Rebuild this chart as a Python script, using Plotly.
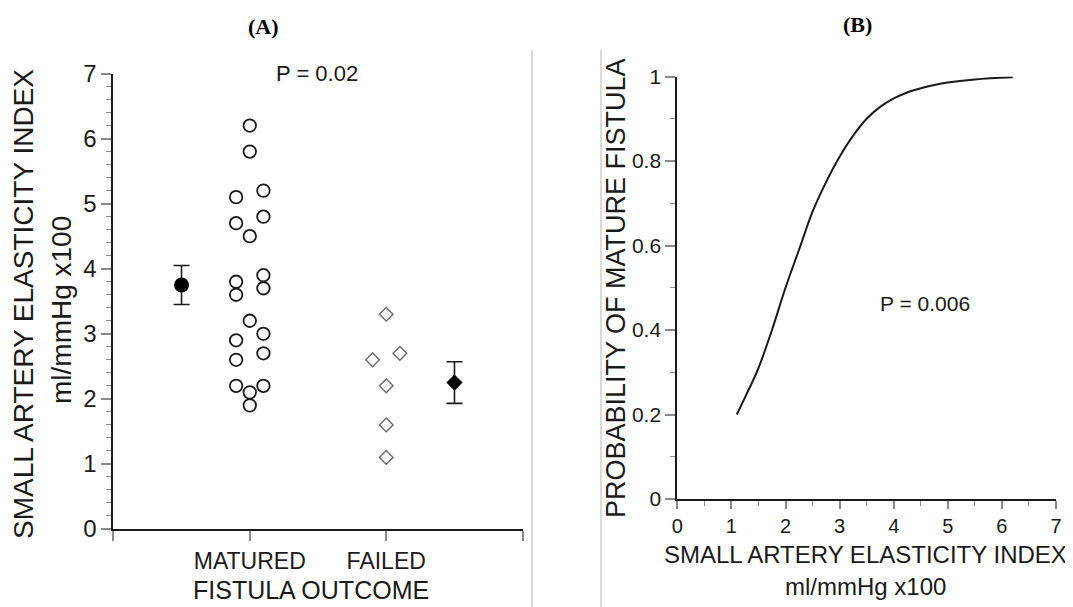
import plotly.graph_objects as go

# ---------------- data ----------------
categories = ["MATURED", "FAILED"]

# Panel A: small artery elasticity index (ml/mmHg x100)
matured_center = [6.2, 5.8, 4.5, 3.2, 2.1, 1.9]
matured_left = [5.1, 4.7, 3.8, 3.6, 2.9, 2.6, 2.2]
matured_right = [5.2, 4.8, 3.9, 3.7, 3.0, 2.7, 2.2]
failed_center = [3.3, 2.2, 1.6, 1.1]
failed_left = [2.6]
failed_right = [2.7]
group_means = [3.75, 2.25]
group_errors = [0.30, 0.32]

# Panel B: probability of mature fistula vs elasticity index
curve_x = [1.1, 1.25, 1.5, 1.75, 2.0, 2.25, 2.5, 2.75, 3.0, 3.25, 3.5, 3.75,
           4.0, 4.25, 4.5, 4.75, 5.0, 5.5, 6.2]
curve_p = [0.20, 0.24, 0.31, 0.40, 0.50, 0.59, 0.68, 0.75, 0.81, 0.86, 0.90,
           0.928, 0.948, 0.962, 0.972, 0.980, 0.986, 0.993, 0.998]

b_yticks = [0, 0.2, 0.4, 0.6, 0.8, 1]
b_yticklabels = ["0", "0.2", "0.4", "0.6", "0.8", "1"]

# ---------------- layout helpers ----------------
W, H = 1073, 607
OFF = 8  # page body margin offset


def px(x):
    return (x - OFF) / W


def py(y):
    return 1 - (y - OFF) / H


SANS = "Liberation Sans, Arial, Helvetica, sans-serif"
SERIF = "Liberation Serif, Times New Roman, serif"
INK = "#1a1a1a"
TICK = "#8a8a8a"

pos = {c: i + 1 for i, c in enumerate(categories)}
off = 0.1

fig = go.Figure()

open_circle = dict(symbol="circle-open", size=12.5, color=INK, line=dict(width=1.8, color=INK))
open_diamond = dict(symbol="diamond-open", size=10.5, color="#6a6a6a", line=dict(width=1.4, color="#6a6a6a"))

for vals, dx in [(matured_center, 0), (matured_left, -off), (matured_right, off)]:
    fig.add_trace(go.Scatter(x=[pos["MATURED"] + dx] * len(vals), y=vals, mode="markers",
                             marker=open_circle, xaxis="x", yaxis="y", showlegend=False,
                             hoverinfo="y"))
for vals, dx in [(failed_center, 0), (failed_left, -off), (failed_right, off)]:
    fig.add_trace(go.Scatter(x=[pos["FAILED"] + dx] * len(vals), y=vals, mode="markers",
                             marker=open_diamond, xaxis="x", yaxis="y", showlegend=False,
                             hoverinfo="y"))

# group means with error bars
fig.add_trace(go.Scatter(x=[pos["MATURED"] - 0.5], y=[group_means[0]], mode="markers",
                         marker=dict(symbol="circle", size=15, color="#000"),
                         error_y=dict(type="data", array=[group_errors[0]], color=INK,
                                      thickness=1.6, width=8),
                         xaxis="x", yaxis="y", showlegend=False))
fig.add_trace(go.Scatter(x=[pos["FAILED"] + 0.5], y=[group_means[1]], mode="markers",
                         marker=dict(symbol="diamond", size=12.5, color="#000"),
                         error_y=dict(type="data", array=[group_errors[1]], color=INK,
                                      thickness=1.6, width=8),
                         xaxis="x", yaxis="y", showlegend=False))

# Panel B curve
fig.add_trace(go.Scatter(x=curve_x, y=curve_p, mode="lines",
                         line=dict(color=INK, width=2, shape="spline", smoothing=1.0),
                         xaxis="x2", yaxis="y2", showlegend=False))

axis_common = dict(showgrid=False, zeroline=False, showline=True, linecolor=INK, linewidth=2,
                   ticks="outside", tickcolor=TICK, tickwidth=1.5, ticklen=10, automargin=False,
                   tickfont=dict(family=SANS, color=INK))

fig.update_layout(
    template="none",
    width=W, height=H, autosize=False,
    margin=dict(l=0, r=0, t=0, b=0, pad=0, autoexpand=False),
    paper_bgcolor="white", plot_bgcolor="white",
    xaxis=dict(axis_common, domain=[px(113.3), px(522.7)], range=[0, 3],
               tickvals=[0, 1, 2, 3], ticktext=[""] + categories + [""],
               tickfont=dict(family=SANS, color=INK, size=23), anchor="y"),
    yaxis=dict(axis_common, domain=[py(529), py(73.5)], range=[0, 7], dtick=1,
               tickfont=dict(family=SANS, color=INK, size=24), anchor="x",
               minor=dict(dtick=0.2, ticks="outside", ticklen=5, tickcolor=TICK, tickwidth=1.2)),
    xaxis2=dict(axis_common, domain=[px(677.3), px(1056)], range=[0, 7], dtick=1,
                tickfont=dict(family=SANS, color=INK, size=20), anchor="y2", ticklen=8,
                minor=dict(dtick=0.5, ticks="outside", ticklen=5, tickcolor=TICK, tickwidth=1.2)),
    yaxis2=dict(axis_common, domain=[py(499), py(76.5)], range=[0, 1],
                tickvals=b_yticks, ticktext=b_yticklabels,
                tickfont=dict(family=SANS, color=INK, size=21), anchor="x2",
                minor=dict(dtick=0.1, ticks="outside", ticklen=5, tickcolor=TICK, tickwidth=1.2)),
    showlegend=False,
)


def label(text, x, y, size, angle=0, family=SANS, color=INK, xref="paper", yref="paper"):
    return dict(text=text, x=x, y=y, xref=xref, yref=yref, showarrow=False,
                xanchor="center", yanchor="middle", textangle=angle,
                font=dict(family=family, size=size, color=color))


ann = [
    # panel titles
    label("<b>(A)</b>", px(263), py(26), 22, family=SERIF, color="#000"),
    label("<b>(B)</b>", px(857), py(25), 22, family=SERIF, color="#000"),
    # panel A titles
    label("SMALL ARTERY ELASTICITY INDEX", px(23), py(304), 28, angle=-90),
    label("ml/mmHg x100", px(62), py(310), 28, angle=-90),
    label("FISTULA OUTCOME", px(311), py(590), 25),
    label("P = 0.02", 1.49, 7.0, 22, xref="x", yref="y"),
    # panel B titles
    label("PROBABILITY OF MATURE FISTULA", px(616), py(288), 27, angle=-90),
    label("SMALL ARTERY ELASTICITY INDEX", px(865), py(554), 24),
    label("ml/mmHg x100", px(865), py(586), 24),
    label("P = 0.006", 4.58, 0.463, 21, xref="x2", yref="y2"),
]
fig.update_layout(annotations=ann)

# separators between the two panels
fig.add_shape(type="line", xref="paper", yref="paper", x0=px(532), x1=px(532), y0=0, y1=py(50),
              line=dict(color="#b5b5b5", width=1))
fig.add_shape(type="line", xref="paper", yref="paper", x0=px(601), x1=px(601), y0=0, y1=py(50),
              line=dict(color="#b5b5b5", width=1))

fig.write_html("out.html")
